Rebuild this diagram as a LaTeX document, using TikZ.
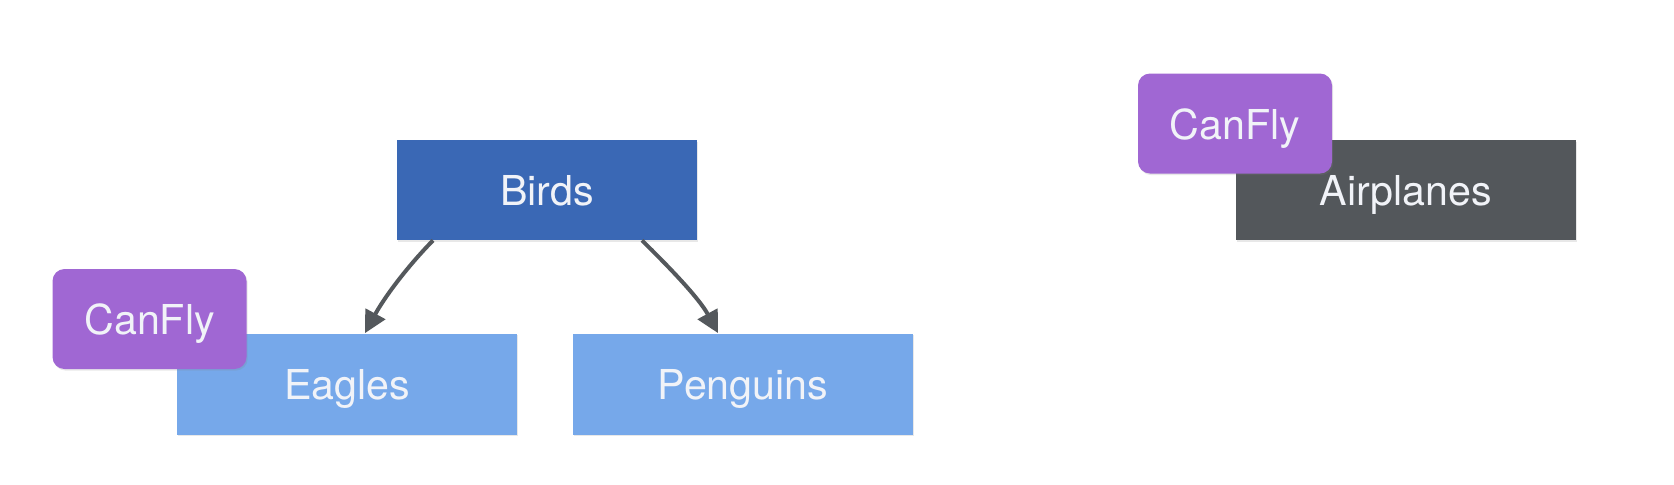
\documentclass[tikz,border=0pt]{standalone}
\usepackage{fontspec}
\setmainfont{TeX Gyre Heros}
\usetikzlibrary{arrows.meta,shadows}
\definecolor{birdblue}{HTML}{3A68B5}
\definecolor{lightblue}{HTML}{76A8EA}
\definecolor{flypurple}{HTML}{A067D3}
\definecolor{planegrey}{HTML}{53575B}
\definecolor{arrgrey}{HTML}{54585C}
\definecolor{txt}{HTML}{F1F3F8}
\tikzset{
  box/.style={inner sep=0pt, text=txt, font=\fontsize{20.6pt}{24pt}\selectfont,
    text height=15.5pt, text depth=0pt,
    drop shadow={opacity=0.18, shadow xshift=0.6pt, shadow yshift=-0.8pt}},
  classbox/.style={box, minimum width=170pt, minimum height=50.5pt},
  flybox/.style={box, fill=flypurple, rounded corners=6pt, minimum width=97pt, minimum height=50pt},
  arr/.style={draw=arrgrey, line width=2pt, -{Triangle[length=11pt,width=11pt]}}
}
\begin{document}
\begin{tikzpicture}[x=0.5pt,y=-0.5pt]
\useasboundingbox[fill=white] (0,0) rectangle (1674,484);
\node[box, fill=birdblue, minimum width=150pt, minimum height=50pt] (birds) at (547,190) {Birds};
\node[classbox, fill=lightblue] (eagles) at (347,384) {Eagles};
\node[classbox, fill=lightblue] (penguins) at (743,384) {Penguins};
\node[flybox] (fly1) at (149.5,319) {CanFly};
\node[classbox, fill=planegrey, minimum height=50pt] (planes) at (1406,190) {Airplanes};
\node[flybox] (fly2) at (1235,123.5) {CanFly};
\draw[arr] ([xshift=-57pt]birds.south) .. controls (406,268) and (384,298) .. ([xshift=9pt]eagles.north);
\draw[arr] ([xshift=47.5pt]birds.south) .. controls (669,267) and (699,298) .. ([xshift=-12.5pt]penguins.north);
\end{tikzpicture}
\end{document}
